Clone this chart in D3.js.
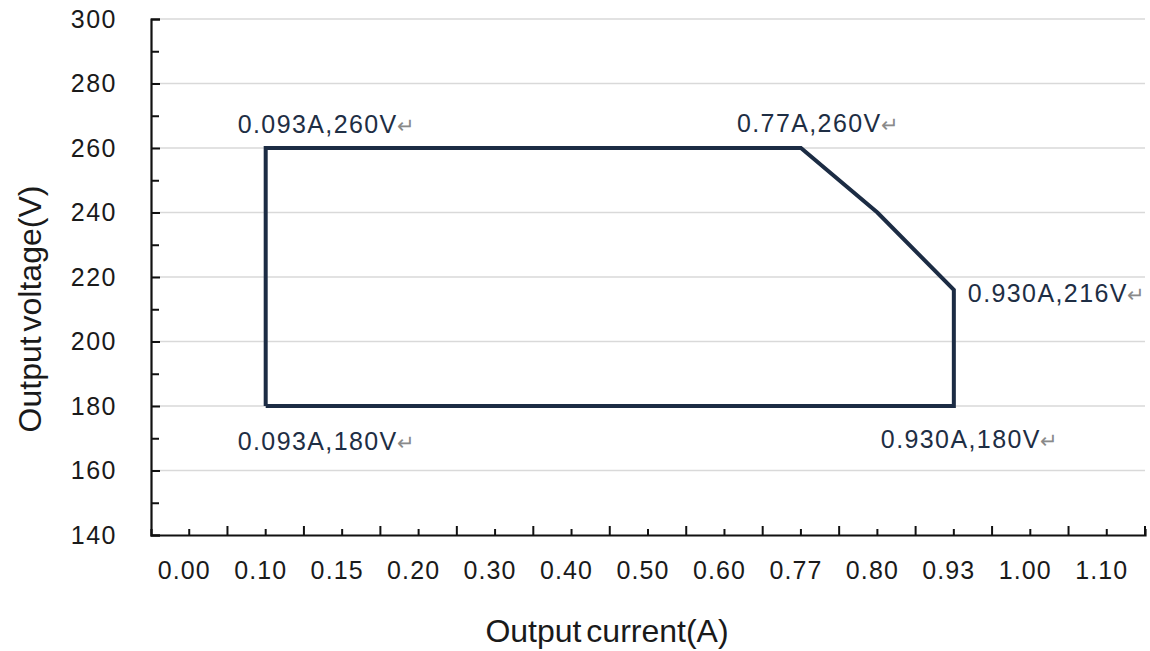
<!DOCTYPE html>
<html>
<head>
<meta charset="utf-8">
<script src="https://cdn.jsdelivr.net/npm/d3@7"></script>
<style>
body { margin: 0; background: #fff; }
text { font-family: "Liberation Sans", Arial, sans-serif; }
</style>
</head>
<body>
<svg id="chart" width="1150" height="651"></svg>
<script>
const categories = ["0.00", "0.10", "0.15", "0.20", "0.30", "0.40", "0.50", "0.60", "0.77", "0.80", "0.93", "1.00", "1.10"];
const yMajor = [140, 160, 180, 200, 220, 240, 260, 280, 300];
const yMinor = [150, 170, 190, 210, 230, 250, 270, 290];
const pathCurrent = ["0.10", "0.10", "0.77", "0.80", "0.93", "0.93", "0.10"];
const pathVoltage = [180, 260, 260, 240, 216, 180, 180];
const labelText = ["0.093A,260V", "0.77A,260V", "0.930A,216V", "0.930A,180V", "0.093A,180V"];
const labelPoint = [1, 2, 4, 5, 0];

const chart = d3.select("#chart");
const plotLeft = 151, plotRight = 1145, plotTop = 19, plotBottom = 535;
const lineColor = "#1c2c44";

const x = d3.scaleBand().domain(categories).range([plotLeft, plotRight]).padding(0);
const y = d3.scaleLinear().domain([140, 300]).range([plotBottom, plotTop]);

// gridlines
chart.append("g")
	.selectAll("line")
	.data(yMajor.slice(1))
	.enter()
	.append("line")
	.attr("x1", plotLeft)
	.attr("x2", plotRight)
	.attr("y1", d => y(d))
	.attr("y2", d => y(d))
	.attr("stroke", "#d9d9d9")
	.attr("stroke-width", 1.5);

// y axis
const yaxis = chart.append("g")
	.attr("transform", "translate(" + plotLeft + ",0)")
	.call(d3.axisLeft(y).tickValues(yMajor).tickSize(-9).tickPadding(34).tickFormat(d3.format("d")));
chart.append("g")
	.attr("transform", "translate(" + plotLeft + ",0)")
	.call(d3.axisLeft(y).tickValues(yMinor).tickSize(-8).tickFormat(""))
	.select(".domain").remove();

// x axis, short ticks at centres, tall ticks at band edges
const xaxis = chart.append("g")
	.attr("transform", "translate(0," + plotBottom + ")")
	.call(d3.axisBottom(x).tickSize(-6).tickPadding(26));
chart.append("g")
	.selectAll("line")
	.data(categories.slice(1).map(c => x(c)).concat([x.range()[1]]))
	.enter()
	.append("line")
	.attr("x1", d => d)
	.attr("x2", d => d)
	.attr("y1", plotBottom)
	.attr("y2", plotBottom - 9)
	.attr("stroke", "#111")
	.attr("stroke-width", 2);

chart.selectAll(".domain").attr("stroke", "#111").attr("stroke-width", 2.2);
chart.selectAll(".tick line").attr("stroke", "#111").attr("stroke-width", 2);
yaxis.selectAll("text")
	.attr("font-size", 25)
	.attr("fill", "#1a1a1a")
	.attr("letter-spacing", 1.5)
	.attr("font-family", "Liberation Sans, Arial, sans-serif");
xaxis.selectAll("text")
	.attr("font-size", 25)
	.attr("fill", "#1a1a1a")
	.attr("dx", -5)
	.attr("letter-spacing", 1.1)
	.attr("font-family", "Liberation Sans, Arial, sans-serif");

// outline of the operating area
const half = x.bandwidth() / 2;
const points = pathCurrent.map((c, i) => [x(c) + half, y(pathVoltage[i])]);
chart.append("path")
	.attr("d", d3.line()(points))
	.attr("fill", "none")
	.attr("stroke", lineColor)
	.attr("stroke-width", 4)
	.attr("stroke-linejoin", "miter");

// point labels
const offsets = [[-28, -15], [-64, -16], [14, 12], [-73, 42], [-28, 44]];
const labels = chart.append("g")
	.selectAll("text")
	.data(labelText)
	.enter()
	.append("text")
	.attr("x", (d, i) => points[labelPoint[i]][0] + offsets[i][0])
	.attr("y", (d, i) => points[labelPoint[i]][1] + offsets[i][1])
	.attr("font-size", 25)
	.attr("letter-spacing", 1.4)
	.attr("fill", "#1e2e44");
labels.append("tspan").text(d => d);
labels.append("tspan")
	.text("\u21b5")
	.attr("dx", -1)
	.attr("font-size", 21)
	.attr("fill", "#8a8a8a");

// axis titles
chart.append("text")
	.text("Output current(A)")
	.attr("x", 607)
	.attr("y", 642)
	.attr("text-anchor", "middle")
	.attr("font-size", 32)
	.attr("word-spacing", -4)
	.attr("fill", "#1a1a1a");

chart.append("text")
	.text("Output voltage(V)")
	.attr("transform", "translate(41," + ((plotTop + plotBottom) / 2 + 32) + ") rotate(-90)")
	.attr("text-anchor", "middle")
	.attr("font-size", 32)
	.attr("word-spacing", -4)
	.attr("fill", "#1a1a1a");
</script>
</body>
</html>
